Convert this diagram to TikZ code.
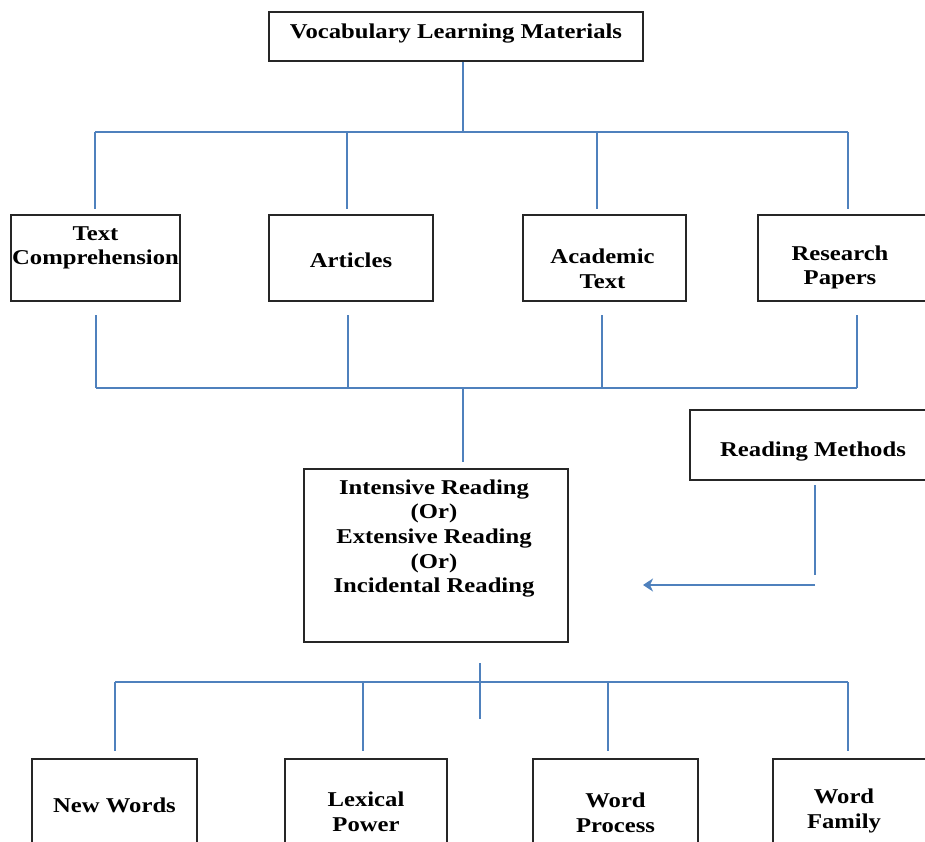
\documentclass[tikz,border=0pt]{standalone}
\usepackage{fontspec}
\setmainfont[FakeStretch=1.17]{Liberation Serif}
\usetikzlibrary{arrows.meta}

\definecolor{lineblue}{RGB}{79,129,189}

\tikzset{
  box/.style={draw=black!85, line width=1.2pt, inner sep=0pt},
  lbl/.style={font=\fontsize{12}{14}\selectfont\bfseries, align=center, inner sep=0pt},
  link/.style={draw=lineblue, line width=1pt},
}

\begin{document}
\begin{tikzpicture}[x=0.02cm, y=-0.02cm]
  \useasboundingbox (0,0) rectangle (925,841);
  \clip (0,0) rectangle (925,841);

  % Top box
  \node[box, minimum width=7.48cm, minimum height=0.98cm,
    label={[lbl, yshift=0.06cm]center:Vocabulary Learning Materials}] (vlm) at (456,36.5) {};

  % Materials
  \node[box, minimum width=3.38cm, minimum height=1.72cm,
    label={[lbl, yshift=0.2cm]center:{Text\\Comprehension}}] (txt) at (95.5,258) {};
  \node[box, minimum width=3.28cm, minimum height=1.72cm,
    label={[lbl, yshift=-0.04cm]center:Articles}] (art) at (351,258) {};
  \node[box, minimum width=3.26cm, minimum height=1.72cm,
    label={[lbl, xshift=-0.04cm, yshift=-0.21cm]center:{Academic\\Text}}] (aca) at (604.5,258) {};
  \node[box, minimum width=3.64cm, minimum height=1.72cm,
    label={[lbl, xshift=-0.18cm, yshift=-0.19cm]center:{Research\\Papers}}] (res) at (849,258) {};

  % Reading methods
  \node[box, minimum width=5cm, minimum height=1.4cm,
    label={[lbl, xshift=-0.04cm, yshift=-0.14cm]center:Reading Methods}] (rm) at (815,445) {};
  \node[box, minimum width=5.28cm, minimum height=3.46cm,
    label={[lbl, xshift=-0.04cm, yshift=0.34cm]center:{Intensive Reading\\(Or)\\Extensive Reading\\(Or)\\Incidental Reading}}] (irb) at (436,555.5) {};

  % Outcomes
  \node[box, minimum width=3.3cm, minimum height=2cm,
    label={[lbl, yshift=0.08cm]center:New Words}] (nw) at (114.5,809) {};
  \node[box, minimum width=3.24cm, minimum height=2cm,
    label={[lbl, yshift=-0.05cm]center:{Lexical\\Power}}] (lp) at (366,809) {};
  \node[box, minimum width=3.3cm, minimum height=2cm,
    label={[lbl, yshift=-0.08cm]center:{Word\\Process}}] (wp) at (615.5,809) {};
  \node[box, minimum width=3.34cm, minimum height=2cm,
    label={[lbl, xshift=-0.25cm, yshift=-0.04cm]center:{Word\\Family}}] (wf) at (856.5,809) {};

  % Upper bus
  \coordinate (b1) at (463,132);
  \coordinate (t1) at (95,132);
  \coordinate (t2) at (347,132);
  \coordinate (t3) at (597,132);
  \coordinate (t4) at (848,132);
  \draw[link] (vlm.south -| b1) -- (b1);
  \draw[link] (t1) -- (t4);
  \draw[link, shorten >=0.1cm] (t1) -- (t1 |- txt.north);
  \draw[link, shorten >=0.1cm] (t2) -- (t2 |- art.north);
  \draw[link, shorten >=0.1cm] (t3) -- (t3 |- aca.north);
  \draw[link, shorten >=0.1cm] (t4) -- (t4 |- res.north);

  % Lower bus
  \coordinate (b2) at (463,388);
  \coordinate (u1) at (96,388);
  \coordinate (u2) at (348,388);
  \coordinate (u3) at (602,388);
  \coordinate (u4) at (857,388);
  \draw[link] (u1) -- (u4);
  \draw[link, shorten <=0.26cm] (u1 |- txt.south) -- (u1);
  \draw[link, shorten <=0.26cm] (u2 |- art.south) -- (u2);
  \draw[link, shorten <=0.26cm] (u3 |- aca.south) -- (u3);
  \draw[link, shorten <=0.26cm] (u4 |- res.south) -- (u4);
  \draw[link, shorten >=0.12cm] (b2) -- (b2 |- irb.north);

  % Reading methods arrow
  \coordinate (rmc) at (815,585);
  \coordinate (rmtip) at (643,585);
  \draw[link, shorten <=0.08cm, shorten >=0.2cm] (rm.south) -- (rmc);
  \draw[link, -{Stealth[length=0.2cm, width=0.26cm, inset=0.06cm]}] (rmc) -- (rmtip);

  % Bottom bus
  \coordinate (b3) at (480,719);
  \coordinate (v1) at (115,682);
  \coordinate (v2) at (363,682);
  \coordinate (v3) at (608,682);
  \coordinate (v4) at (848,682);
  \draw[link, shorten <=0.4cm] (b3 |- irb.south) -- (b3);
  \draw[link] (v1) -- (v4);
  \draw[link, shorten >=0.14cm] (v1) -- (v1 |- nw.north);
  \draw[link, shorten >=0.14cm] (v2) -- (v2 |- lp.north);
  \draw[link, shorten >=0.14cm] (v3) -- (v3 |- wp.north);
  \draw[link, shorten >=0.14cm] (v4) -- (v4 |- wf.north);
\end{tikzpicture}
\end{document}
